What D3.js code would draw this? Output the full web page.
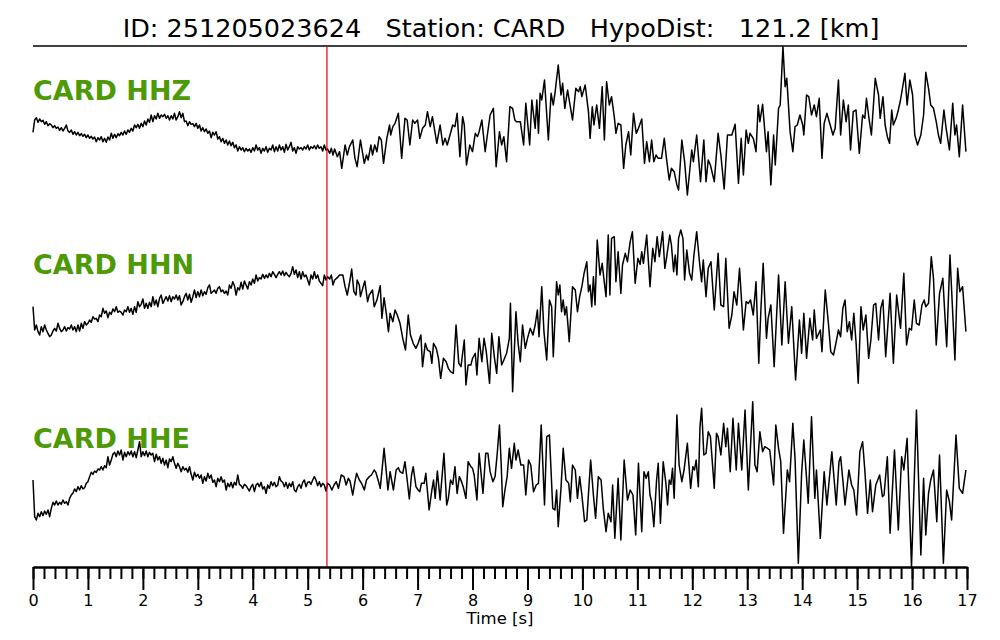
<!DOCTYPE html>
<html>
<head>
<meta charset="utf-8">
<script src="https://cdn.jsdelivr.net/npm/d3@7"></script>
<style>
  html, body { margin: 0; padding: 0; background: #fff; }
  svg { display: block; font-family: "DejaVu Sans", sans-serif; }
  .axis .domain, .axis line { stroke: #000; stroke-width: 2; }
  .axis text { font-family: "DejaVu Sans", sans-serif; font-size: 16px; fill: #000; }
</style>
</head>
<body>
<svg id="chart" width="1000" height="640"></svg>
<script>
// ---- data ----
const titleText = "ID: 251205023624   Station: CARD   HypoDist:   121.2 [km]";
const channels = ["CARD HHZ", "CARD HHN", "CARD HHE"];
const pickTime = 5.35;               // P pick [s]
const timeTicks = [0,1,2,3,4,5,6,7,8,9,10,11,12,13,14,15,16,17];
const quietStep = 0.0303;            // sample step of the pre-event part [s]

// pre-event samples (counts), starting at t = 0
const hhzQuiet = [23,60,67,53,63,55,59,47,55,43, 49,45,37,43,35,39,29,37,27,35, 45,27,23,30,17,25,15,23,13,19,
  11,17,7,15,5,11,3,9,-5,7, 0,10,-5,5,-7,9,0,20,5,17, 7,19,13,23,15,27,17,30,23,35, 27,45,37,47,35,50,40,57,45,63,
  53,75,55,73,63,80,65,75,70,77, 65,73,60,73,63,80,60,70,85,67, 80,55,57,43,55,47,49,40,50,35, 45,27,37,25,33,20,27,7,23,15,
  25,3,10,-5,5,-10,0,-15,-3,-17, -7,-23,-15,-33,-20,-30,-23,-35,-25,-33, -27,-37,-23,-33,-15,-30,-23,-40,-25,-33,
  -20,-37,-25,-30,-15,-35,-20,-33,-15,-30, -20,-37,-13,-30,-20,-7,-33,-23,-40,-20, -27,-23,-30,-20,-27,-15,-30,-20,-25,-17,
  -27,-15,-25,-20,-33,-15,-30,-27];
const hhnQuiet = [10,-60,-45,-65,-75,-50,-65,-45,-60,-70, -80,-75,-63,-55,-63,-40,-55,-65,-60,-50, -63,-53,-57,-45,-60,-50,-65,-45,-63,-40,
  -55,-35,-45,-40,-30,-37,-20,-27,-25,-35, -15,-20,5,-10,-3,-23,-7,-13,3,-5, 10,-7,-3,-7,-15,0,-5,10,-7,5,
  -13,10,-7,25,10,17,33,5,20,5, 23,10,40,15,30,10,35,45,20,30, 40,27,43,25,40,33,45,30,43,15, 25,40,50,30,47,23,40,60,37,55,
  40,60,43,55,47,67,75,50,55,60, 50,65,70,55,60,50,57,45,75,65, 85,73,45,67,60,83,63,87,75,63, 85,75,93,80,105,87,97,93,107,95,
  105,97,110,100,115,107,97,107,115,105, 117,103,113,105,100,110,130,107,120,97, 115,93,115,100,105,90,75,105,93,115,
  95,105,87,80,73,105,90,100];
const hheQuiet = [0,-110,-120,-100,-110,-95,-107,-93,-103,-90, -110,-85,-67,-75,-63,-75,-67,-73,-60,-70, -65,-75,-55,-45,-40,-27,-35,-20,-30,-17,
  -27,-23,-10,-5,10,23,17,27,23,33, 30,40,30,43,37,70,45,60,77,83, 70,87,75,90,60,83,70,85,75,87, 70,85,67,90,115,70,85,73,87,70,
  83,75,80,55,77,60,70,50,65,45, 60,37,63,55,70,50,35,50,40,25, 40,30,35,23,40,17,0,23,10,17, 5,15,-10,10,-3,20,5,15,-7,0,
  -20,5,-5,10,-7,0,-30,-10,-20,-7, -23,-7,-15,15,-13,-17,-25,-13,-17,-25, -33,-20,-13,-35,-15,-10,-20,-7,-27,-20,
  -40,-15,-25,-5,-17,-7,-20,-15,10,-3, -7,-20,-7,-25,-10,-20,-5,-30,-35,-20, -13,-25,-7,0,-20,-7,-5,-13,0,10,
  0,-17,-5,-20,-10,-15,-33,-10];

// event part: [time s, counts]
const hhzWave = [[5.40,-40],[5.43,-25],[5.46,-45],[5.49,-27],[5.54,-50],[5.58,-35],[5.62,-85],[5.68,-15],[5.72,-45],[5.76,-20],
  [5.82,0],[5.86,-55],[5.90,-80],[5.96,0],[6.03,-70],[6.07,-45],[6.10,-60],[6.15,-15],[6.18,-45],[6.22,-15],[6.26,-35],[6.30,10],
  [6.34,0],[6.38,-70],[6.44,5],[6.49,45],[6.51,15],[6.55,40],[6.59,50],[6.65,80],[6.71,-55],[6.77,65],[6.81,60],[6.86,-15],
  [6.91,60],[6.95,50],[7.00,60],[7.04,5],[7.09,35],[7.14,45],[7.18,85],[7.23,40],[7.27,70],[7.35,-10],[7.41,45],[7.46,-15],
  [7.50,5],[7.54,-15],[7.59,15],[7.64,45],[7.68,40],[7.72,80],[7.77,-50],[7.82,70],[7.85,45],[7.89,-75],[7.95,-15],[8.00,-35],
  [8.05,20],[8.09,10],[8.12,25],[8.17,60],[8.23,-35],[8.27,15],[8.32,75],[8.38,95],[8.43,-80],[8.49,25],[8.53,-15],[8.57,10],
  [8.62,-65],[8.68,100],[8.73,95],[8.77,60],[8.80,55],[8.87,55],[8.93,-15],[8.97,110],[9.04,-15],[9.08,120],[9.14,35],[9.17,120],
  [9.20,20],[9.23,140],[9.26,120],[9.31,180],[9.38,0],[9.43,140],[9.47,105],[9.50,140],[9.56,225],[9.61,135],[9.64,170],[9.68,95],
  [9.73,150],[9.78,100],[9.82,60],[9.88,155],[9.93,145],[9.96,160],[9.99,130],[10.05,165],[10.11,85],[10.14,5],[10.18,100],
  [10.21,45],[10.26,105],[10.31,35],[10.36,160],[10.40,0],[10.44,175],[10.49,105],[10.53,130],[10.58,70],[10.61,20],[10.65,50],
  [10.70,45],[10.75,-85],[10.79,-15],[10.84,25],[10.88,-45],[10.93,80],[10.98,20],[11.02,35],[11.08,63],[11.13,-70],[11.17,-5],
  [11.22,-65],[11.26,0],[11.30,-65],[11.34,-45],[11.38,-55],[11.44,-55],[11.49,5],[11.53,-55],[11.58,-120],[11.62,-85],[11.67,-95],
  [11.72,-135],[11.75,-150],[11.81,0],[11.86,-65],[11.91,-165],[11.99,-30],[12.02,-65],[12.08,15],[12.15,-125],[12.21,0],
  [12.25,-125],[12.29,-60],[12.33,-75],[12.40,-125],[12.47,20],[12.52,-45],[12.58,-147],[12.64,15],[12.72,15],[12.78,47],
  [12.84,-130],[12.89,5],[12.93,-105],[12.98,30],[13.02,-10],[13.05,20],[13.11,5],[13.16,-35],[13.20,105],[13.23,55],[13.28,107],
  [13.35,-35],[13.38,25],[13.43,-135],[13.48,15],[13.51,-75],[13.57,95],[13.60,105],[13.65,280],[13.69,160],[13.72,185],[13.78,25],
  [13.83,-35],[13.87,40],[13.91,45],[13.96,75],[14.01,45],[14.03,15],[14.08,135],[14.12,130],[14.17,75],[14.22,105],[14.26,70],
  [14.31,125],[14.36,-55],[14.40,50],[14.45,80],[14.51,45],[14.56,15],[14.60,35],[14.66,180],[14.70,15],[14.75,120],[14.80,55],
  [14.84,105],[14.88,-30],[14.93,85],[14.98,90],[15.04,-40],[15.10,75],[15.14,65],[15.17,125],[15.22,60],[15.26,15],[15.33,185],
  [15.39,135],[15.42,65],[15.47,130],[15.51,45],[15.55,10],[15.59,-10],[15.63,90],[15.66,45],[15.71,65],[15.75,90],[15.79,120],
  [15.87,200],[15.91,105],[15.96,180],[16.01,135],[16.05,15],[16.10,-15],[16.16,15],[16.21,75],[16.25,203],[16.30,155],[16.34,105],
  [16.39,95],[16.44,55],[16.48,15],[16.52,-10],[16.58,90],[16.62,35],[16.68,-30],[16.74,110],[16.78,15],[16.81,45],[16.86,-50],
  [16.92,105],[16.98,-35]];

const hhnWave = [[5.40,93],[5.43,105],[5.46,75],[5.49,90],[5.54,97],[5.58,105],[5.64,105],[5.68,70],[5.72,45],[5.77,90],[5.80,123],
  [5.84,55],[5.88,45],[5.90,90],[5.94,75],[5.96,40],[6.01,70],[6.04,87],[6.09,25],[6.12,45],[6.18,60],[6.21,10],[6.26,30],[6.32,73],
  [6.35,-25],[6.39,37],[6.43,-10],[6.47,-65],[6.50,-10],[6.55,-35],[6.59,0],[6.63,-15],[6.68,-40],[6.73,-85],[6.78,-120],[6.83,-15],
  [6.87,-75],[6.92,-100],[6.97,-115],[7.01,-100],[7.06,-75],[7.09,-170],[7.14,-100],[7.18,-120],[7.23,-125],[7.26,-160],[7.29,-100],
  [7.34,-115],[7.38,-145],[7.42,-205],[7.47,-145],[7.52,-155],[7.56,-175],[7.60,-185],[7.65,-190],[7.70,-45],[7.75,-160],[7.79,-170],
  [7.85,-90],[7.88,-225],[7.92,-165],[7.97,-165],[8.00,-145],[8.05,-130],[8.08,-195],[8.12,-85],[8.17,-155],[8.21,-85],[8.25,-125],
  [8.31,-220],[8.35,-70],[8.40,-145],[8.44,-190],[8.48,-80],[8.53,-165],[8.57,-150],[8.62,-130],[8.67,-85],[8.69,20],[8.73,-245],
  [8.79,-5],[8.83,-100],[8.87,-155],[8.91,-45],[8.96,-115],[9.00,-85],[9.05,-55],[9.10,-75],[9.14,-45],[9.18,0],[9.21,-80],[9.26,70],
  [9.30,-65],[9.35,-150],[9.40,30],[9.44,10],[9.47,-140],[9.53,85],[9.56,45],[9.59,75],[9.62,-5],[9.65,30],[9.68,-15],[9.71,10],
  [9.76,-95],[9.82,70],[9.87,60],[9.91,-5],[9.95,40],[9.99,70],[10.03,110],[10.08,145],[10.11,55],[10.14,75],[10.17,10],[10.20,100],
  [10.23,15],[10.27,210],[10.32,105],[10.36,140],[10.39,95],[10.43,40],[10.47,225],[10.50,45],[10.53,215],[10.58,220],[10.61,85],
  [10.65,175],[10.70,50],[10.73,135],[10.78,170],[10.82,145],[10.87,205],[10.91,235],[10.96,80],[11.01,155],[11.05,137],[11.08,175],
  [11.11,140],[11.17,225],[11.23,70],[11.28,185],[11.32,145],[11.36,220],[11.40,160],[11.46,235],[11.50,125],[11.53,155],[11.59,225],
  [11.62,195],[11.66,115],[11.69,165],[11.72,105],[11.75,215],[11.79,240],[11.83,215],[11.86,90],[11.90,180],[11.95,110],[11.99,90],
  [12.03,165],[12.08,235],[12.13,145],[12.17,85],[12.20,150],[12.25,40],[12.29,125],[12.34,145],[12.40,0],[12.47,170],[12.52,15],
  [12.57,10],[12.61,155],[12.67,-55],[12.72,-15],[12.76,55],[12.81,15],[12.86,125],[12.93,-60],[12.98,25],[13.02,20],[13.06,30],
  [13.11,-15],[13.16,85],[13.21,-160],[13.25,5],[13.29,140],[13.35,-85],[13.38,-25],[13.43,15],[13.49,-170],[13.57,105],[13.63,-105],
  [13.69,85],[13.75,-100],[13.81,10],[13.88,-210],[13.95,-30],[13.99,-130],[14.03,-10],[14.08,-145],[14.14,-25],[14.19,-90],[14.22,0],
  [14.26,-85],[14.33,-60],[14.36,-125],[14.42,60],[14.48,-45],[14.52,-125],[14.57,-135],[14.62,-95],[14.66,-60],[14.70,-80],[14.74,5],
  [14.78,30],[14.82,-65],[14.86,-35],[14.90,-90],[14.94,-10],[14.98,-95],[15.02,-220],[15.07,10],[15.11,-60],[15.16,-15],[15.21,-145],
  [15.25,-90],[15.30,15],[15.34,20],[15.39,-90],[15.43,5],[15.47,30],[15.52,-140],[15.60,50],[15.66,-160],[15.72,45],[15.79,-55],
  [15.85,110],[15.90,-105],[15.95,-55],[15.99,-60],[16.04,30],[16.08,-40],[16.13,-45],[16.18,15],[16.22,30],[16.25,10],[16.30,20],
  [16.35,160],[16.39,95],[16.44,-105],[16.50,50],[16.56,95],[16.63,-110],[16.69,165],[16.78,-150],[16.83,125],[16.87,55],[16.92,70],
  [16.98,-65]];

const hheWave = [[5.40,-15],[5.44,-30],[5.48,-15],[5.52,-5],[5.56,-25],[5.61,15],[5.66,10],[5.70,-15],[5.74,5],[5.77,-3],[5.82,-45],
  [5.86,-5],[5.89,20],[5.94,0],[5.98,-10],[6.03,-30],[6.07,0],[6.12,10],[6.16,15],[6.21,30],[6.24,23],[6.29,-5],[6.32,-25],[6.35,25],
  [6.39,95],[6.43,25],[6.46,-30],[6.50,25],[6.53,-3],[6.56,-30],[6.61,30],[6.65,37],[6.68,25],[6.73,20],[6.77,55],[6.80,15],[6.85,-57],
  [6.89,15],[6.92,40],[6.97,-20],[7.01,-30],[7.04,-35],[7.07,-10],[7.12,-10],[7.15,20],[7.21,-90],[7.26,-30],[7.29,0],[7.32,-55],
  [7.36,27],[7.41,-60],[7.48,80],[7.53,-75],[7.56,-55],[7.60,0],[7.64,-13],[7.68,40],[7.72,-40],[7.76,10],[7.80,-5],[7.83,-20],
  [7.88,-55],[7.92,55],[7.97,40],[8.00,35],[8.03,15],[8.08,-60],[8.12,80],[8.19,-40],[8.24,80],[8.28,80],[8.32,25],[8.37,-5],[8.41,10],
  [8.45,80],[8.49,165],[8.52,55],[8.55,-80],[8.59,-30],[8.63,10],[8.67,95],[8.71,35],[8.76,110],[8.79,60],[8.83,90],[8.88,45],[8.93,45],
  [8.97,-45],[9.02,60],[9.06,45],[9.11,-35],[9.16,-15],[9.20,-10],[9.25,165],[9.31,-75],[9.35,130],[9.40,135],[9.46,-85],[9.50,-90],
  [9.53,-30],[9.56,-140],[9.61,-25],[9.65,95],[9.70,0],[9.75,-10],[9.78,-65],[9.82,45],[9.87,30],[9.91,-55],[9.95,10],[9.99,-45],
  [10.04,-125],[10.08,-120],[10.15,60],[10.20,-45],[10.24,-115],[10.29,10],[10.34,0],[10.38,-85],[10.43,-155],[10.47,-100],[10.52,-125],
  [10.55,-15],[10.59,-175],[10.65,5],[10.70,-180],[10.76,60],[10.82,-60],[10.87,-30],[10.92,-45],[10.97,-165],[11.02,50],[11.08,-155],
  [11.12,25],[11.16,5],[11.20,25],[11.23,-45],[11.26,-65],[11.30,-140],[11.35,0],[11.38,50],[11.42,-130],[11.47,55],[11.52,-10],
  [11.55,-75],[11.58,0],[11.61,-13],[11.64,35],[11.67,-55],[11.72,195],[11.76,45],[11.81,-5],[11.85,30],[11.91,110],[11.97,-25],
  [12.01,40],[12.04,30],[12.07,60],[12.11,-20],[12.14,160],[12.17,215],[12.21,75],[12.25,80],[12.29,145],[12.33,130],[12.40,-25],
  [12.44,140],[12.47,130],[12.52,75],[12.57,170],[12.61,100],[12.64,155],[12.69,25],[12.74,185],[12.80,30],[12.84,170],[12.90,30],
  [12.96,210],[13.02,-30],[13.10,235],[13.14,45],[13.18,25],[13.23,145],[13.28,85],[13.32,100],[13.37,95],[13.41,90],[13.48,-15],
  [13.52,165],[13.57,95],[13.61,55],[13.66,-160],[13.73,30],[13.77,-5],[13.83,170],[13.87,65],[13.93,-250],[13.99,20],[14.03,120],
  [14.08,5],[14.11,-70],[14.17,190],[14.23,-55],[14.26,30],[14.33,-175],[14.40,25],[14.45,-75],[14.54,85],[14.62,-75],[14.67,55],
  [14.70,70],[14.74,0],[14.78,-75],[14.85,30],[14.90,-15],[14.94,-30],[14.99,-105],[15.05,85],[15.10,115],[15.14,30],[15.19,-100],
  [15.24,0],[15.28,-95],[15.34,-15],[15.41,15],[15.46,-50],[15.49,-45],[15.55,70],[15.60,-160],[15.68,90],[15.75,-150],[15.81,70],
  [15.85,30],[15.91,125],[15.99,-260],[16.08,210],[16.16,-225],[16.21,5],[16.25,-165],[16.30,-40],[16.34,0],[16.39,30],[16.45,-125],
  [16.50,75],[16.57,-250],[16.63,-30],[16.68,-65],[16.72,-120],[16.80,135],[16.86,-25],[16.92,-40],[16.98,30]];

const traces = [
  { name: channels[0], quiet: hhzQuiet, wave: hhzWave },
  { name: channels[1], quiet: hhnQuiet, wave: hhnWave },
  { name: channels[2], quiet: hheQuiet, wave: hheWave }
];

// ---- layout ----
const svg = d3.select("#chart");
const x = d3.scaleLinear().domain([0, 17]).range([33, 967]);
const yMid = d3.scalePoint().domain(channels).range([140, 480]);
const yLabel = d3.scalePoint().domain(channels).range([100, 448]);
const amp = d3.scaleLinear().domain([-300, 300]).range([100, -100]);
const plotTop = 46, plotBottom = 567;

svg.append("text")
  .attr("x", 501).attr("y", 37)
  .attr("text-anchor", "middle")
  .style("white-space", "pre")
  .attr("font-size", 25.5)
  .text(titleText);

svg.append("line")
  .attr("x1", x(0)).attr("x2", x(17))
  .attr("y1", plotTop).attr("y2", plotTop)
  .attr("stroke", "#000").attr("stroke-width", 1.6);

traces.forEach(tr => {
  const pts = tr.quiet.map((v, i) => [i * quietStep, v]).concat(tr.wave);
  const line = d3.line()
    .x(d => x(d[0]))
    .y(d => yMid(tr.name) + amp(d[1]));
  svg.append("path")
    .attr("d", line(pts))
    .attr("fill", "none")
    .attr("stroke", "#000")
    .attr("stroke-width", 1.5)
    .attr("stroke-linejoin", "round");

  svg.append("text")
    .attr("x", 33).attr("y", yLabel(tr.name))
    .attr("font-size", 27).attr("font-weight", "bold")
    .attr("fill", "#4e9a06")
    .text(tr.name);
});

// P pick
svg.append("line")
  .attr("x1", x(pickTime)).attr("x2", x(pickTime))
  .attr("y1", plotTop).attr("y2", plotBottom)
  .attr("stroke", "#e3000f").attr("stroke-width", 1.2);

// time axis: minor ticks every 0.2 s, labelled majors every second
const minorTicks = d3.range(0, 17.001, 0.2);
svg.append("g")
  .attr("class", "axis")
  .attr("transform", `translate(0,${plotBottom})`)
  .call(d3.axisBottom(x).tickValues(minorTicks).tickSize(12).tickSizeOuter(0).tickFormat(""));
svg.append("g")
  .attr("class", "axis")
  .attr("transform", `translate(0,${plotBottom})`)
  .call(d3.axisBottom(x).tickValues(timeTicks).tickSize(23).tickSizeOuter(0).tickPadding(5).tickFormat(d3.format("d")));

svg.append("text")
  .attr("x", 500).attr("y", 624)
  .attr("text-anchor", "middle")
  .attr("font-size", 16.5)
  .text("Time [s]");
</script>
</body>
</html>
